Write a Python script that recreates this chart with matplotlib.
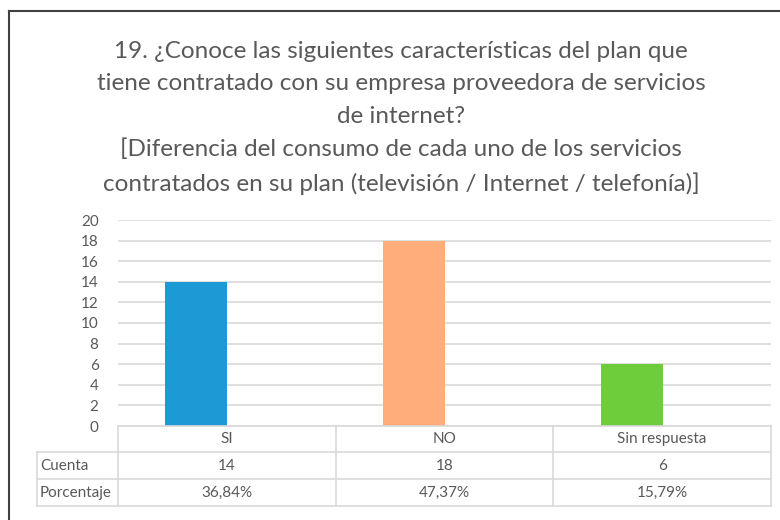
import numpy as np
import matplotlib.pyplot as plt
from matplotlib.lines import Line2D

# data
categories = ['SI', 'NO', 'Sin respuesta']
counts = [14, 18, 6]
percent_labels = ['36,84%', '47,37%', '15,79%']
row_labels = ['Cuenta', 'Porcentaje']
bar_colors = ['#1B9AD6', '#FFAD7B', '#6DCD3A']
y_ticks = list(range(0, 21, 2))

title = ('19. ¿Conoce las siguientes características del plan que\n'
         'tiene contratado con su empresa proveedora de servicios\n'
         'de internet?\n'
         '[Diferencia del consumo de cada uno de los servicios\n'
         'contratados en su plan (televisión / Internet / telefonía)]')

plt.rcParams['font.family'] = ['Lato', 'DejaVu Sans']
text_gray = '#595959'
line_gray = '#D9D9D9'

fig = plt.figure(figsize=(7.8, 5.2), dpi=100)
W, H = 780, 520
ax_left, ax_right, ax_top, ax_bottom = 118, 771, 220, 426
ax = fig.add_axes([ax_left / W, 1 - ax_bottom / H,
                   (ax_right - ax_left) / W, (ax_bottom - ax_top) / H])

x = np.arange(len(categories))
# bars sit a bit left of the category centre in the original
ax.bar(x - 0.14, counts, width=0.285, color=bar_colors, zorder=3)

ax.set_xlim(-0.5, len(categories) - 0.5)
ax.set_ylim(0, 20)
ax.set_yticks(y_ticks)
ax.set_yticklabels([str(t) for t in y_ticks], fontsize=11, color=text_gray)
ax.tick_params(axis='y', length=0, pad=14)
ax.set_xticks([])
for s in ax.spines.values():
    s.set_visible(False)
ax.grid(axis='y', color=line_gray, linewidth=1.2, zorder=0)

# data table under the axes
px_per_unit = (ax_right - ax_left) / len(categories)
row_edges_px = [426, 452, 479, 506]
label_left_px = 37

def fy(py):
    return 1 - py / H

def fx(px):
    return px / W

col_edges_px = [ax_left + i * px_per_unit for i in range(len(categories) + 1)]
# horizontal lines
fig.add_artist(Line2D([fx(ax_left), fx(ax_right)], [fy(row_edges_px[0])] * 2,
                      color=line_gray, lw=1.2))
for py in row_edges_px[1:]:
    fig.add_artist(Line2D([fx(label_left_px), fx(ax_right)], [fy(py)] * 2,
                          color=line_gray, lw=1.2))
# vertical lines
for px in col_edges_px:
    fig.add_artist(Line2D([fx(px)] * 2, [fy(row_edges_px[0]), fy(row_edges_px[-1])],
                          color=line_gray, lw=1.2))
fig.add_artist(Line2D([fx(label_left_px)] * 2, [fy(row_edges_px[1]), fy(row_edges_px[-1])],
                      color=line_gray, lw=1.2))

rows = [categories, [str(c) for c in counts], percent_labels]
for r, row in enumerate(rows):
    yc = fy((row_edges_px[r] + row_edges_px[r + 1]) / 2)
    for c, txt in enumerate(row):
        xc = fx((col_edges_px[c] + col_edges_px[c + 1]) / 2)
        fig.text(xc, yc, txt, ha='center', va='center', fontsize=11, color=text_gray)
    if r > 0:
        fig.text(fx(label_left_px + 3), yc, row_labels[r - 1], ha='left', va='center',
                 fontsize=11, color=text_gray)

fig.text(0.514, fy(118), title, ha='center', va='center', fontsize=17.5,
         color=text_gray, linespacing=1.66)

# frame lines (left and top only, the image is cropped)
fig.add_artist(Line2D([fx(9), fx(9)], [fy(11), 0], color='#404040', lw=1.5))
fig.add_artist(Line2D([fx(9), 1], [fy(11), fy(11)], color='#404040', lw=1.5))

fig.savefig('out.png', dpi=100)
